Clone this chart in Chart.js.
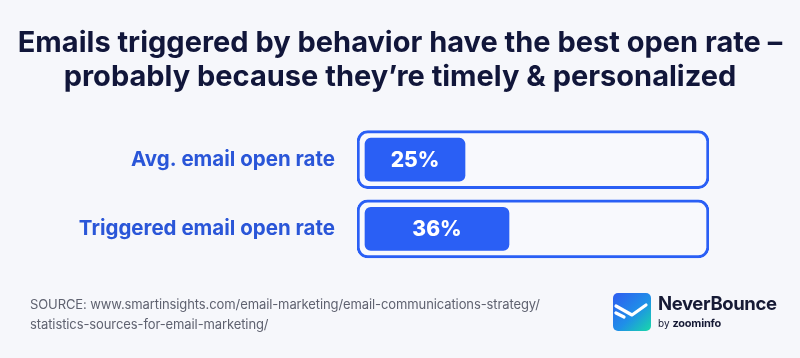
<!DOCTYPE html>
<html>
<head>
<meta charset="utf-8">
<script src="https://cdn.jsdelivr.net/npm/chart.js@4.4.1/dist/chart.umd.min.js"></script>
<style>
  html, body { margin: 0; padding: 0; background: #f6f7fb; }
  #wrap { position: relative; width: 800px; height: 358px; overflow: hidden; background: #f6f7fb; }
  canvas { position: absolute; left: 0; top: 0; }
  #source { position: absolute; left: 30px; top: 294px; font-family: Inter, "Noto Sans", sans-serif; font-size: 13px; line-height: 20px; color: #5f6270; letter-spacing: -0.1px; }
  #logo { position: absolute; left: 613px; top: 293px; width: 180px; height: 40px; }
  #logo svg { position: absolute; left: 0; top: 0; }
  #brand { position: absolute; left: 45px; top: -1px; font-family: Inter, "Noto Sans", sans-serif; font-weight: 700; font-size: 18.5px; color: #161a35; letter-spacing: -0.4px; }
  #by { position: absolute; left: 45px; top: 23px; font-family: Inter, "Noto Sans", sans-serif; font-size: 10px; color: #161a35; }
  #by b { font-weight: 700; font-size: 11px; letter-spacing: -0.2px; }
</style>
</head>
<body>
<div id="wrap">
  <canvas id="c" width="800" height="358"></canvas>
  <div id="source">SOURCE: www.smartinsights.com/email-marketing/email-communications-strategy/<br>statistics-sources-for-email-marketing/</div>
  <div id="logo">
    <svg width="38" height="38" viewBox="0 0 38 38">
      <defs>
        <linearGradient id="g" x1="0" y1="0" x2="1" y2="1">
          <stop offset="0" stop-color="#2f5cf0"/>
          <stop offset="0.55" stop-color="#1f8fe8"/>
          <stop offset="1" stop-color="#18d9a8"/>
        </linearGradient>
      </defs>
      <rect x="0" y="0" width="38" height="38" rx="5" fill="url(#g)"/>
      <path d="M3 13 L19 22 L33 12" stroke="#fff" stroke-width="3.2" fill="none" stroke-linecap="round" stroke-linejoin="round"/>
      <path d="M3 20 L11 24" stroke="#fff" stroke-width="3.2" fill="none" stroke-linecap="round"/>
    </svg>
    <div id="brand">NeverBounce</div>
    <div id="by">by <b>zoominfo</b></div>
  </div>
</div>
<script>
const categories = ["Avg. email open rate", "Triggered email open rate"];
const openRates = [25, 36];
const valueLabels = ["25%", "36%"];
const trackRange = [-2, 86];

const BLUE = "#2a5ff5";
const LABEL_BLUE = "#2a56d8";

const valueLabelPlugin = {
  id: "valueLabels",
  afterDatasetsDraw(chart) {
    const meta = chart.getDatasetMeta(1);
    const ctx = chart.ctx;
    ctx.save();
    ctx.fillStyle = "#ffffff";
    ctx.font = "800 21px Inter, 'Noto Sans', sans-serif";
    ctx.textAlign = "center";
    ctx.textBaseline = "middle";
    meta.data.forEach((bar, i) => {
      const p = bar.getProps(["x", "y", "base"], true);
      ctx.fillText(valueLabels[i], (p.x + p.base) / 2, p.y + 1);
    });
    ctx.restore();
  }
};

new Chart(document.getElementById("c"), {
  type: "bar",
  data: {
    labels: categories,
    datasets: [
      {
        label: "track",
        data: categories.map(() => trackRange),
        backgroundColor: "#f8f9fd",
        borderColor: BLUE,
        borderWidth: 3,
        borderRadius: 11,
        borderSkipped: false,
        barThickness: 58,
        grouped: false,
        order: 2
      },
      {
        label: "Open rate",
        data: openRates,
        backgroundColor: BLUE,
        borderWidth: 0,
        borderRadius: 6,
        borderSkipped: false,
        barThickness: 43,
        grouped: false,
        order: 1
      }
    ]
  },
  options: {
    indexAxis: "y",
    responsive: false,
    animation: false,
    layout: { padding: { left: 0, right: 0, top: 0, bottom: 94.5 } },
    plugins: {
      legend: { display: false },
      tooltip: { enabled: false },
      title: {
        display: true,
        text: ["Emails triggered by behavior have the best open rate \u2013", "probably because they\u2019re timely & personalized"],
        color: "#11163a",
        font: { family: "Inter, 'Noto Sans', sans-serif", size: 29, weight: "700", lineHeight: 1.2 },
        padding: { top: 25.5, bottom: 30 }
      }
    },
    scales: {
      x: {
        display: false,
        min: trackRange[0],
        max: trackRange[1]
      },
      y: {
        grid: { display: false },
        border: { display: false },
        afterFit(scale) { scale.width = 357; },
        ticks: {
          color: LABEL_BLUE,
          padding: 14,
          font: { family: "Inter, 'Noto Sans', sans-serif", size: 20.5, weight: "700" }
        }
      },
      yRight: {
        type: "category",
        position: "right",
        grid: { display: false },
        border: { display: false },
        ticks: { display: false },
        afterFit(scale) { scale.width = 91; }
      }
    }
  },
  plugins: [valueLabelPlugin]
});
</script>
</body>
</html>
